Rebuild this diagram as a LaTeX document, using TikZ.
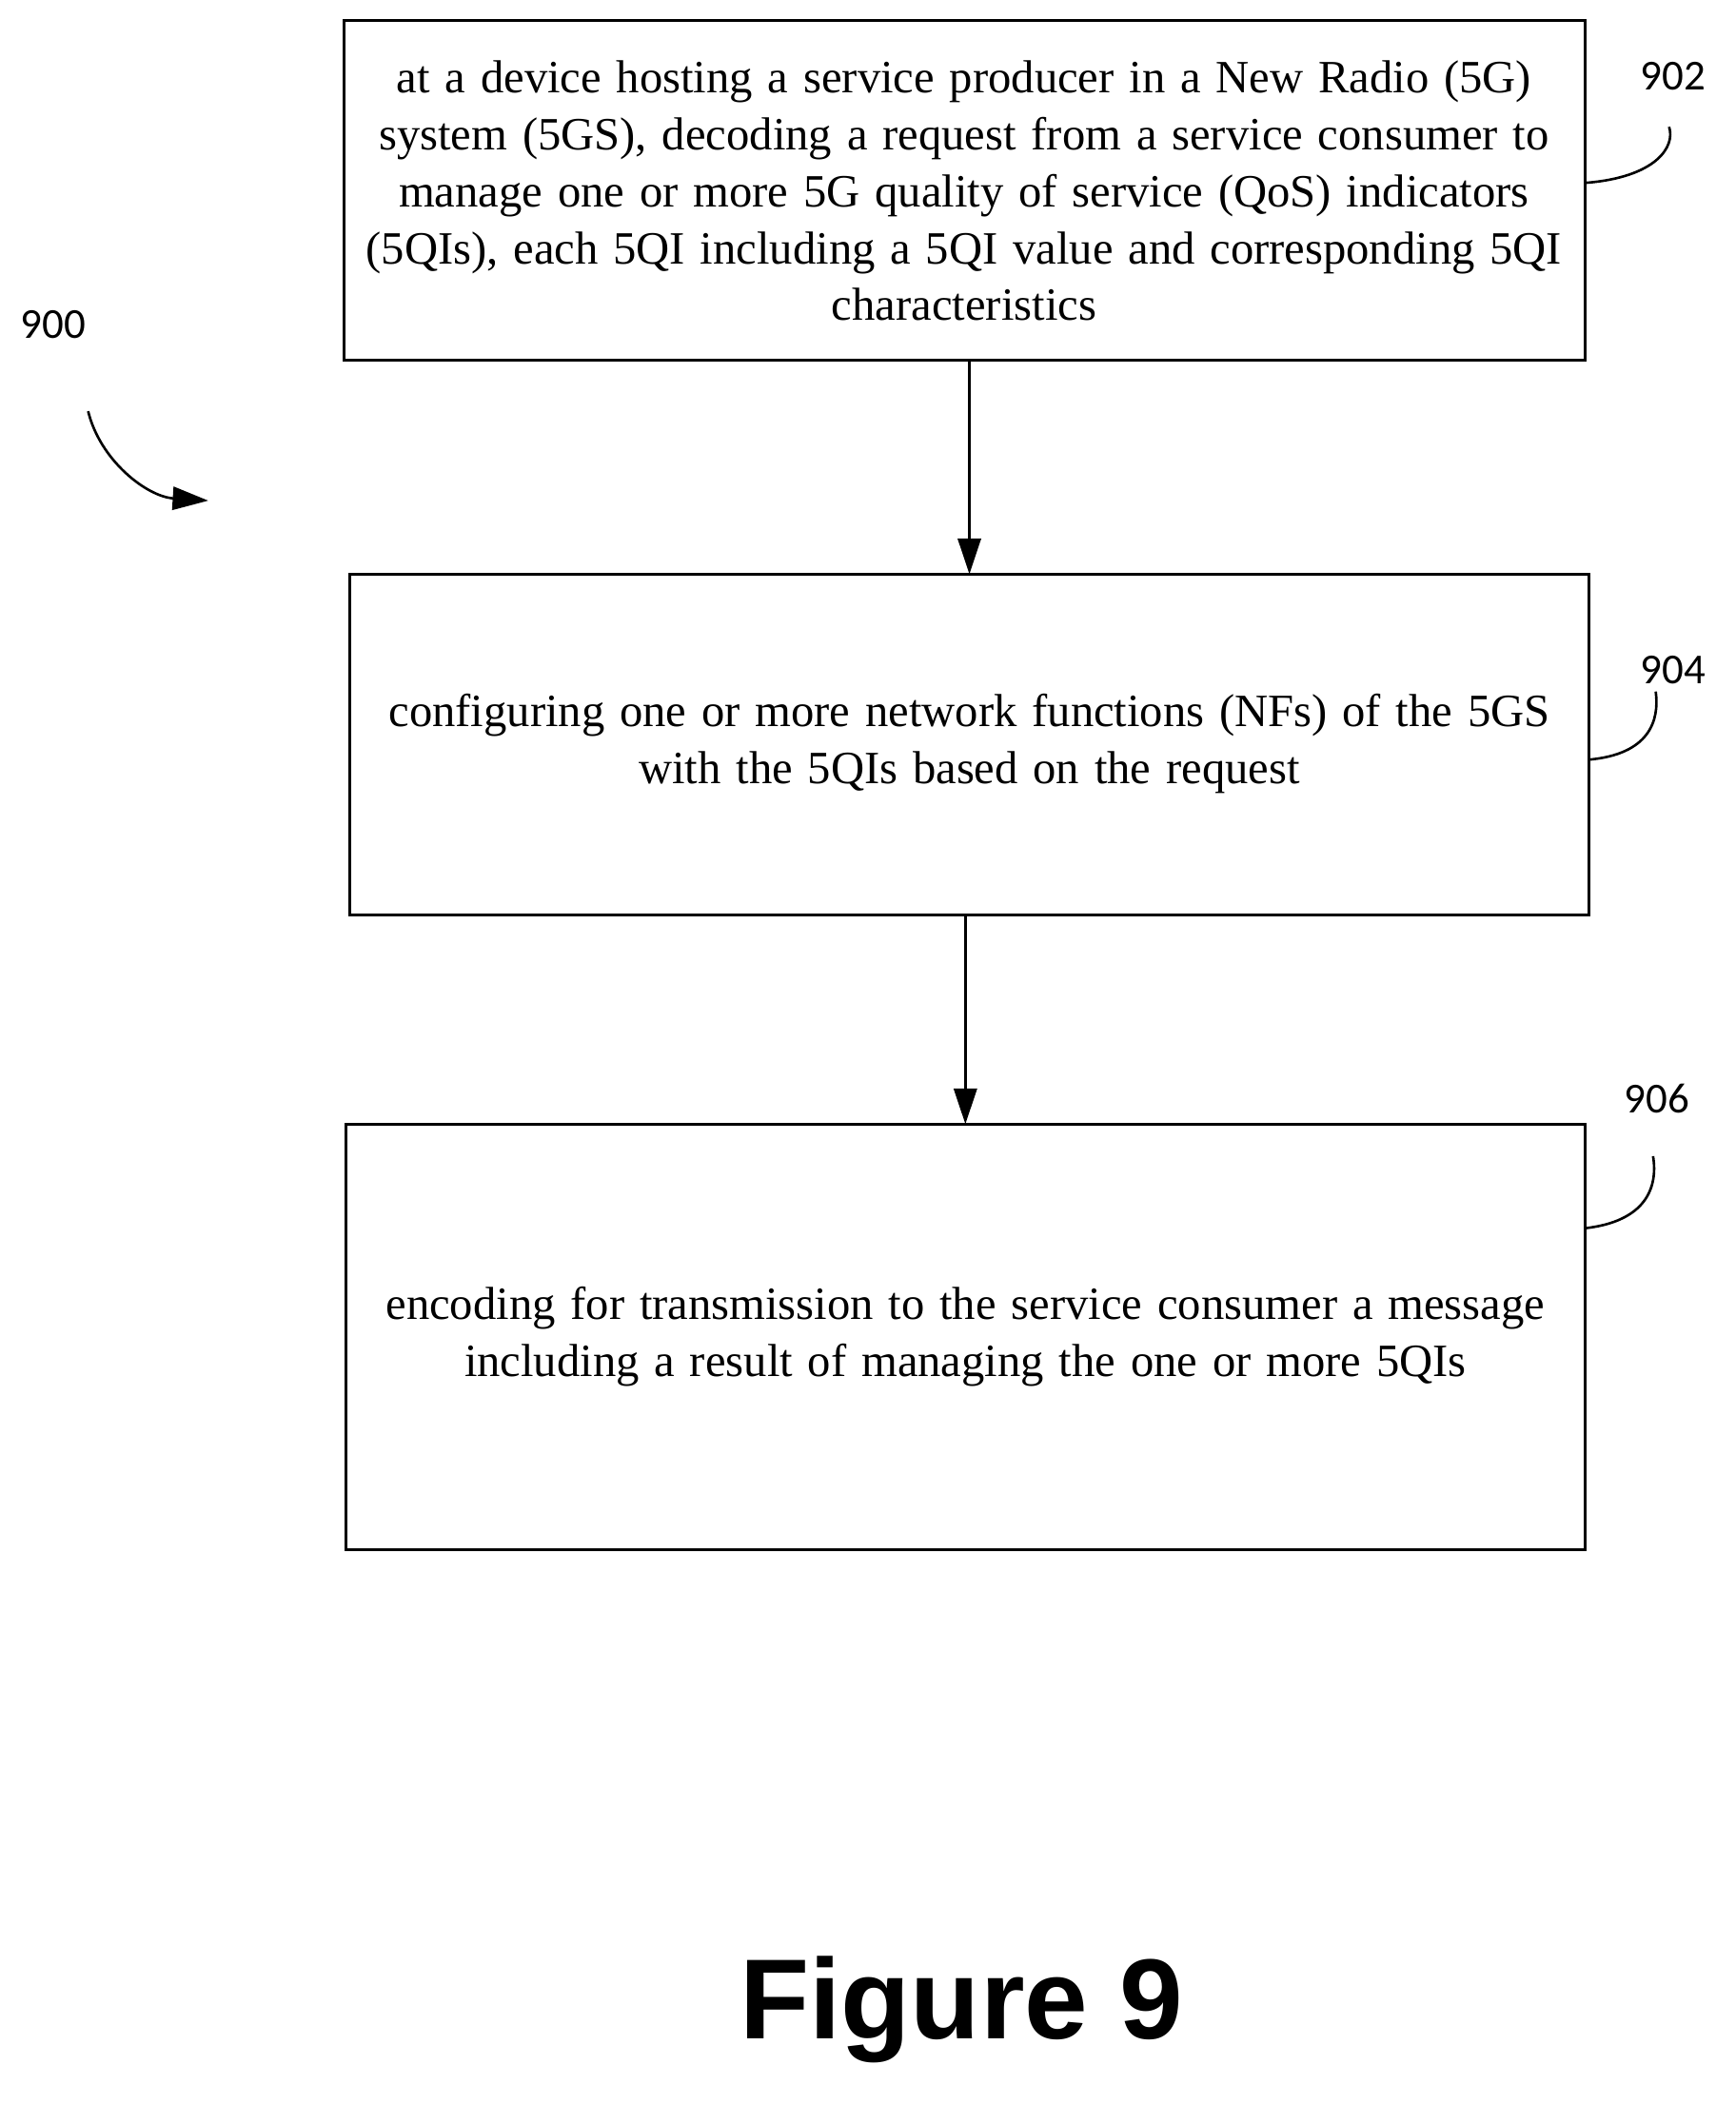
\documentclass[tikz,border=0pt]{standalone}
\usepackage{fontspec}
\setmainfont{Liberation Serif}[WordSpace={1.3,0.5,0.3}]
\newfontfamily\lab{Carlito}
\newfontfamily\figf{Liberation Sans}
\usetikzlibrary{arrows.meta}
\begin{document}
\begin{tikzpicture}[x=0.75pt,y=-0.75pt,
  box/.style={draw,line width=1.6pt,inner sep=0pt},
  txt/.style={align=center,font=\fontsize{26pt}{32pt}\selectfont},
  lbl/.style={font=\lab\fontsize{24pt}{26pt}\selectfont},
  arr/.style={line width=1.4pt,-{Triangle[length=20pt,width=13pt]}},
  lead/.style={line width=1.4pt}]
\useasboundingbox (0,0) rectangle (1300,1576);
\draw[box] (258,15) rectangle (1187,270);
\node[txt] (t1) at (722,143) {at a device hosting a service producer in a New Radio (5G)\\ system (5GS), decoding a request from a service consumer to\\ manage one or more 5G quality of service (QoS) indicators\\ (5QIs), each 5QI including a 5QI value and corresponding 5QI\\ characteristics};
\draw[box] (262,430) rectangle (1190,685);
\node[txt] (t2) at (726,557) {configuring one or more network functions (NFs) of the 5GS\\ with the 5QIs based on the request};
\draw[box] (259,842) rectangle (1187,1161);
\node[txt] (t3) at (723,1001) {encoding for transmission to the service consumer a message\\ including a result of managing the one or more 5QIs};
\coordinate (a1) at (726,270); \coordinate (a2) at (726,430);
\coordinate (a3) at (723,685); \coordinate (a4) at (723,842);
\draw[arr] (a1) -- (a2);
\draw[arr] (a3) -- (a4);
\node[lbl] (l902) at (1253,57) {902};
\node[lbl] (l904) at (1253,502) {904};
\node[lbl] (l906) at (1241,823) {906};
\node[lbl] (l900) at (40,243) {900};
\draw[lead] (1187,137) .. controls (1240,133) and (1255,110) .. (1250,95);
\draw[lead] (1190,569) .. controls (1235,565) and (1243,540) .. (1240,518);
\draw[lead] (1187,920) .. controls (1232,915) and (1242,890) .. (1238,866);
\draw[arr] (66,308) .. controls (75,345) and (110,372) .. (156,375);
\node[font=\figf\bfseries\fontsize{64pt}{70pt}\selectfont] (fig) at (720,1505) {Figure 9};
\end{tikzpicture}
\end{document}
